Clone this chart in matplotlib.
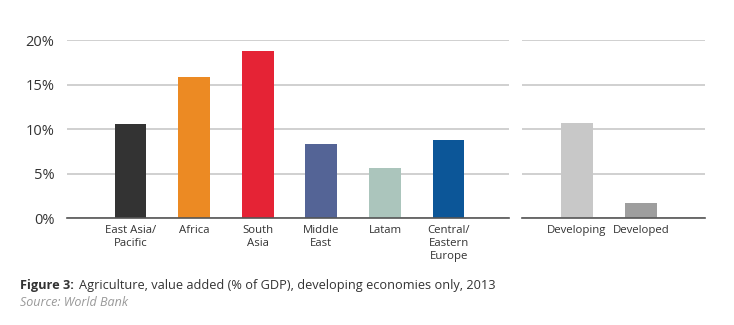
import matplotlib.pyplot as plt

# data
regions = ["East Asia/\nPacific", "Africa", "South\nAsia", "Middle\nEast", "Latam", "Central/\nEastern\nEurope"]
region_values = [10.6, 15.9, 18.8, 8.35, 5.7, 8.8]
region_colors = ["#333333", "#ec8a23", "#e52335", "#546496", "#abc5bc", "#0c5698"]

groups = ["Developing", "Developed"]
group_values = [10.7, 1.75]
group_colors = ["#c8c8c8", "#9e9e9e"]

yticks = [0, 5, 10, 15, 20]
ytick_labels = ["0%", "5%", "10%", "15%", "20%"]

text_color = "#333333"
plt.rcParams['font.family'] = ['Open Sans', 'DejaVu Sans']

fig = plt.figure(figsize=(7.34, 3.25), dpi=100)
ax1 = fig.add_axes([67 / 734, 1 - 218.3 / 325, 442 / 734, 178 / 325])
ax2 = fig.add_axes([522 / 734, 1 - 218.3 / 325, 183 / 734, 178 / 325])


def style(ax):
    ax.set_ylim(0, 20)
    ax.set_yticks(yticks)
    ax.yaxis.grid(True, color="#d0d0d0", linewidth=1.4)
    ax.set_axisbelow(True)
    for s in ["top", "right", "left"]:
        ax.spines[s].set_visible(False)
    ax.spines["bottom"].set_color("#555555")
    ax.spines["bottom"].set_linewidth(1.2)
    ax.tick_params(axis="both", length=0, colors=text_color)


style(ax1)
ax1.bar(range(len(regions)), region_values, width=0.5, color=region_colors)
ax1.set_xlim(-1.0, 5.95)
ax1.set_xticks(range(len(regions)))
ax1.set_xticklabels(regions, fontsize=8.2, color=text_color, linespacing=1.25)
ax1.set_yticklabels(ytick_labels, fontsize=10.5, color=text_color)
ax1.tick_params(axis="y", pad=9)
ax1.tick_params(axis="x", pad=5)

style(ax2)
ax2.bar(range(len(groups)), group_values, width=0.5, color=group_colors)
ax2.set_xlim(-0.86, 2.0)
ax2.set_xticks(range(len(groups)))
ax2.set_xticklabels(groups, fontsize=8.2, color=text_color)
ax2.set_yticklabels([])
ax2.tick_params(axis="x", pad=5)

# caption with bold prefix, source line below
fig.text(20 / 734, 1 - 285 / 325, "Figure 3:", fontsize=9.2, color=text_color, va="center", weight="bold")
fig.text(79 / 734, 1 - 285 / 325, "Agriculture, value added (% of GDP), developing economies only, 2013",
         fontsize=9.2, color=text_color, va="center")
fig.text(20 / 734, 1 - 303 / 325, "Source: World Bank", fontsize=9, color="#999999",
         style="italic", va="center")

fig.savefig("out.png", dpi=100)
